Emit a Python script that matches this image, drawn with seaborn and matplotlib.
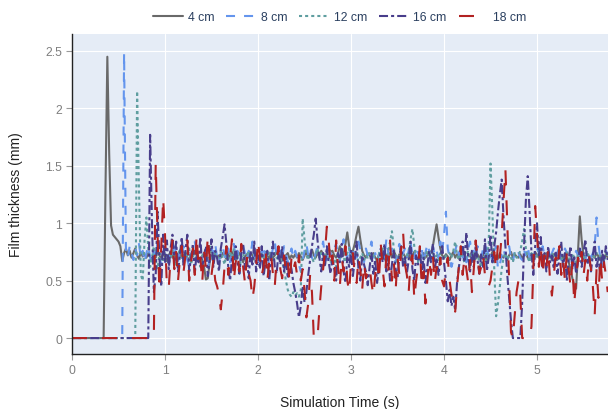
import numpy as np
import pandas as pd
import seaborn as sns
import matplotlib
matplotlib.use("Agg")
import matplotlib.pyplot as plt
from matplotlib.ticker import FuncFormatter

# ---- data (sampled every 0.02 s, 0 .. 5.76 s) ----
time_s = np.round(np.arange(289) * 0.02, 2)

film_4cm = [
    0, 0, 0, 0, 0, 0, 0, 0, 0, 0, 0, 0, 0, 0, 0, 0, 0, 0, 1.3, 2.45,
    1.6, 0.98, 0.9, 0.88, 0.86, 0.84, 0.8, 0.67, 0.74, 0.78, 0.72, 0.76, 0.7, 0.74, 0.78, 0.72, 0.69, 0.75, 0.71, 0.73,
    0.7, 0.74, 0.71, 0.68, 0.73, 0.7, 0.76, 0.72, 0.69, 0.74, 0.71, 0.67, 0.72, 0.75, 0.7, 0.73, 0.68, 0.71, 0.74, 0.7,
    0.72, 0.75, 0.7, 0.68, 0.73, 0.71, 0.76, 0.72, 0.69, 0.7, 0.68, 0.62, 0.51, 0.52, 0.66, 0.72, 0.7, 0.74, 0.7, 0.72,
    0.7, 0.74, 0.72, 0.69, 0.73, 0.7, 0.75, 0.71, 0.68, 0.72, 0.74, 0.7, 0.66, 0.71, 0.73, 0.7, 0.74, 0.72, 0.69, 0.73,
    0.71, 0.68, 0.73, 0.7, 0.75, 0.72, 0.69, 0.74, 0.7, 0.72, 0.76, 0.71, 0.68, 0.73, 0.7, 0.72, 0.74, 0.69, 0.72, 0.7,
    0.73, 0.7, 0.74, 0.71, 0.68, 0.72, 0.75, 0.7, 0.73, 0.77, 0.72, 0.7, 0.74, 0.71, 0.76, 0.73, 0.7, 0.74, 0.78, 0.75,
    0.76, 0.72, 0.7, 0.74, 0.8, 0.76, 0.72, 0.82, 0.92, 0.8, 0.72, 0.76, 0.82, 0.9, 0.97, 0.86, 0.76, 0.72, 0.7, 0.74,
    0.72, 0.69, 0.74, 0.7, 0.68, 0.73, 0.71, 0.75, 0.7, 0.67, 0.72, 0.74, 0.7, 0.76, 0.72, 0.69, 0.73, 0.7, 0.74, 0.71,
    0.7, 0.73, 0.69, 0.72, 0.75, 0.7, 0.68, 0.73, 0.71, 0.74, 0.7, 0.72, 0.76, 0.74, 0.8, 0.9, 0.99, 0.88, 0.78, 0.72,
    0.7, 0.73, 0.71, 0.68, 0.72, 0.75, 0.7, 0.73, 0.69, 0.72, 0.74, 0.7, 0.68, 0.73, 0.71, 0.75, 0.72, 0.69, 0.73, 0.7,
    0.72, 0.74, 0.7, 0.68, 0.73, 0.71, 0.75, 0.7, 0.72, 0.69, 0.74, 0.71, 0.7, 0.73, 0.68, 0.72, 0.75, 0.7, 0.73, 0.71,
    0.7, 0.73, 0.69, 0.72, 0.74, 0.7, 0.68, 0.73, 0.71, 0.75, 0.72, 0.7, 0.73, 0.69, 0.72, 0.74, 0.7, 0.72, 0.68, 0.73,
    0.71, 0.74, 0.7, 0.72, 0.69, 0.73, 0.7, 0.66, 0.6, 0.52, 0.46, 0.43, 0.75, 1.06, 0.85, 0.72, 0.7, 0.73, 0.71, 0.7,
    0.72, 0.7, 0.74, 0.71, 0.68, 0.72, 0.7, 0.73, 0.7,
]
film_8cm = [
    0, 0, 0, 0, 0, 0, 0, 0, 0, 0, 0, 0, 0, 0, 0, 0, 0, 0, 0, 0,
    0, 0, 0, 0, 0, 0, 0, 0, 2.48, 0.75, 0.7, 0.8, 0.74, 0.68, 0.78, 0.72, 0.82, 0.7, 0.76, 0.66,
    0.74, 0.8, 0.7, 0.66, 0.76, 0.72, 0.82, 0.7, 0.64, 0.75, 0.8, 0.72, 0.68, 0.78, 0.74, 0.84, 0.7, 0.66, 0.76, 0.72,
    0.8, 0.74, 0.68, 0.62, 0.72, 0.78, 0.84, 0.74, 0.7, 0.66, 0.76, 0.72, 0.64, 0.6, 0.7, 0.78, 0.74, 0.82, 0.7, 0.66,
    0.74, 0.8, 0.72, 0.68, 0.78, 0.66, 0.74, 0.82, 0.7, 0.76, 0.64, 0.72, 0.8, 0.74, 0.68, 0.76, 0.72, 0.84, 0.7, 0.74,
    0.66, 0.78, 0.72, 0.8, 0.7, 0.74, 0.62, 0.7, 0.78, 0.84, 0.72, 0.68, 0.76, 0.7, 0.8, 0.74, 0.66, 0.72, 0.78, 0.7,
    0.76, 0.7, 0.64, 0.58, 0.68, 0.76, 0.82, 0.72, 0.78, 0.7, 0.66, 0.74, 0.8, 0.7, 0.76, 0.84, 0.72, 0.68, 0.78, 0.74,
    0.7, 0.78, 0.82, 0.72, 0.68, 0.76, 0.86, 0.74, 0.7, 0.8, 0.66, 0.74, 0.78, 0.7, 0.84, 0.76, 0.7, 0.66, 0.78, 0.72,
    0.76, 0.84, 0.7, 0.74, 0.66, 0.72, 0.8, 0.76, 0.7, 0.86, 0.74, 0.68, 0.78, 0.72, 0.66, 0.76, 0.82, 0.7, 0.74, 0.78,
    0.7, 0.76, 0.84, 0.72, 0.68, 0.8, 0.74, 0.7, 0.78, 0.66, 0.74, 0.82, 0.76, 0.7, 0.8, 0.72, 0.76, 0.7, 0.84, 0.74,
    0.9, 1.1, 0.78, 0.7, 0.62, 0.68, 0.76, 0.82, 0.72, 0.8, 0.7, 0.74, 0.66, 0.78, 0.84, 0.72, 0.76, 0.7, 0.8, 0.74,
    0.7, 0.78, 0.72, 0.82, 0.68, 0.74, 0.66, 0.76, 0.8, 0.6, 0.64, 0.72, 0.78, 0.7, 0.74, 0.8, 0.7, 0.66, 0.76, 0.72,
    0.74, 0.7, 0.68, 0.76, 0.72, 0.8, 0.7, 0.74, 0.66, 0.72, 0.78, 0.74, 0.7, 0.8, 0.72, 0.68, 0.76, 0.7, 0.74, 0.78,
    0.7, 0.74, 0.8, 0.68, 0.72, 0.78, 0.74, 0.7, 0.66, 0.62, 0.7, 0.76, 0.72, 0.8, 0.7, 0.74, 0.68, 0.76, 0.72, 0.7,
    0.74, 0.8, 1.05, 0.82, 0.7, 0.62, 0.68, 0.76, 0.72,
]
film_12cm = [
    0, 0, 0, 0, 0, 0, 0, 0, 0, 0, 0, 0, 0, 0, 0, 0, 0, 0, 0, 0,
    0, 0, 0, 0, 0, 0, 0, 0, 0, 0, 0, 0, 0, 0, 0, 2.15, 1.3, 0.55, 0.5, 0.85,
    1.05, 0.78, 0.62, 0.7, 0.8, 0.68, 0.6, 0.74, 0.7, 0.66, 0.78, 0.72, 0.64, 0.7, 0.76, 0.68, 0.62, 0.72, 0.78, 0.7,
    0.66, 0.74, 0.7, 0.78, 0.64, 0.72, 0.68, 0.76, 0.7, 0.62, 0.72, 0.74, 0.68, 0.7, 0.8, 0.72, 0.66, 0.74, 0.7, 0.68,
    0.76, 0.7, 0.64, 0.72, 0.68, 0.74, 0.7, 0.78, 0.66, 0.72, 0.6, 0.7, 0.74, 0.68, 0.72, 0.76, 0.7, 0.66, 0.74, 0.7,
    0.72, 0.68, 0.74, 0.7, 0.64, 0.72, 0.76, 0.7, 0.66, 0.74, 0.7, 0.68, 0.72, 0.66, 0.6, 0.5, 0.42, 0.38, 0.36, 0.4,
    0.37, 0.39, 0.36, 0.42, 1.04, 0.86, 0.72, 0.68, 0.74, 0.7, 0.66, 0.72, 0.78, 0.7, 0.74, 0.68, 0.72, 0.76, 0.7, 0.66,
    0.72, 0.7, 0.62, 0.74, 0.68, 0.72, 0.7, 0.66, 0.74, 0.78, 0.7, 0.68, 0.72, 0.76, 0.64, 0.7, 0.74, 0.68, 0.72, 0.7,
    0.74, 0.68, 0.72, 0.7, 0.66, 0.74, 0.7, 0.78, 0.72, 0.68, 0.76, 0.84, 0.93, 0.78, 0.7, 0.66, 0.72, 0.74, 0.68, 0.7,
    0.72, 0.76, 0.86, 0.95, 0.8, 0.7, 0.66, 0.74, 0.7, 0.68, 0.72, 0.76, 0.7, 0.66, 0.74, 0.7, 0.72, 0.68, 0.74, 0.7,
    0.68, 0.72, 0.66, 0.74, 0.7, 0.76, 0.84, 0.72, 0.68, 0.74, 0.7, 0.66, 0.72, 0.76, 0.7, 0.68, 0.74, 0.7, 0.72, 0.66,
    0.62, 0.7, 0.66, 0.74, 0.8, 1.52, 1.1, 0.6, 0.19, 0.3, 0.45, 0.6, 0.7, 0.74, 0.68, 0.72, 0.7, 0.66, 0.74, 0.7,
    0.72, 0.76, 0.84, 0.95, 0.78, 0.7, 0.66, 0.74, 0.7, 0.68, 0.72, 0.76, 0.7, 0.66, 0.74, 0.7, 0.72, 0.68, 0.74, 0.7,
    0.72, 0.68, 0.74, 0.7, 0.66, 0.72, 0.76, 0.7, 0.68, 0.74, 0.7, 0.66, 0.72, 0.7, 0.74, 0.68, 0.72, 0.76, 0.7, 0.68,
    0.72, 0.7, 0.74, 0.68, 0.72, 0.7, 0.66, 0.74, 0.7,
]
film_16cm = [
    0, 0, 0, 0, 0, 0, 0, 0, 0, 0, 0, 0, 0, 0, 0, 0, 0, 0, 0, 0,
    0, 0, 0, 0, 0, 0, 0, 0, 0, 0, 0, 0, 0, 0, 0, 0, 0, 0, 0, 0,
    0, 0, 1.77, 1.0, 0.4, 0.55, 1.1, 0.7, 0.45, 0.9, 0.65, 0.85, 0.6, 0.78, 0.9, 0.66, 0.84, 0.58, 0.72, 0.88,
    0.62, 0.76, 0.9, 0.58, 0.7, 0.82, 0.56, 0.74, 0.66, 0.88, 0.6, 0.72, 0.8, 0.54, 0.68, 0.86, 0.62, 0.76, 0.7, 0.58,
    0.78, 0.88, 0.99, 0.82, 0.62, 0.5, 0.7, 0.6, 0.8, 0.66, 0.56, 0.74, 0.82, 0.6, 0.7, 0.52, 0.76, 0.64, 0.84, 0.58,
    0.72, 0.6, 0.8, 0.54, 0.66, 0.76, 0.5, 0.7, 0.84, 0.62, 0.56, 0.74, 0.64, 0.8, 0.58, 0.7, 0.52, 0.66, 0.6, 0.48,
    0.4, 0.3, 0.18, 0.28, 0.45, 0.31, 0.4, 0.55, 0.68, 0.8, 0.9, 1.04, 0.85, 0.7, 0.58, 0.74, 0.62, 0.8, 0.66, 0.56,
    0.7, 0.6, 0.5, 0.74, 0.66, 0.82, 0.58, 0.48, 0.7, 0.62, 0.76, 0.54, 0.68, 0.84, 0.6, 0.5, 0.72, 0.64, 0.58, 0.46,
    0.62, 0.74, 0.56, 0.68, 0.48, 0.6, 0.78, 0.66, 0.82, 0.58, 0.7, 0.5, 0.64, 0.76, 0.6, 0.52, 0.72, 0.8, 0.62, 0.7,
    0.56, 0.68, 0.84, 0.6, 0.5, 0.72, 0.64, 0.78, 0.58, 0.7, 0.48, 0.62, 0.76, 0.66, 0.82, 0.6, 0.7, 0.55, 0.68, 0.8,
    0.66, 0.5, 0.32, 0.42, 0.28, 0.36, 0.24, 0.48, 0.62, 0.72, 0.84, 0.66, 0.92, 0.7, 0.58, 0.76, 0.62, 0.8, 0.68, 0.56,
    0.74, 0.62, 0.86, 0.58, 0.7, 0.9, 0.66, 0.8, 0.92, 1.1, 1.25, 1.38, 1.05, 0.8, 0.55, 0.35, 0.15, 0.0, 0.0, 0.0,
    0.0, 0.0, 0.3, 0.8, 1.2, 1.41, 1.1, 0.75, 0.55, 0.8, 1.0, 0.7, 0.88, 0.62, 0.74, 0.58, 0.8, 0.66, 0.72, 0.6,
    0.76, 0.56, 0.7, 0.84, 0.62, 0.74, 0.5, 0.68, 0.8, 0.6, 0.72, 0.56, 0.66, 0.78, 0.62, 0.74, 0.86, 0.64, 0.7, 0.58,
    0.72, 0.84, 0.62, 0.7, 0.56, 0.76, 0.66, 0.8, 0.68,
]
film_18cm = [
    0, 0, 0, 0, 0, 0, 0, 0, 0, 0, 0, 0, 0, 0, 0, 0, 0, 0, 0, 0,
    0, 0, 0, 0, 0, 0, 0, 0, 0, 0, 0, 0, 0, 0, 0, 0, 0, 0, 0, 0,
    0, 0, 0, 0, 0, 1.52, 0.9, 0.42, 0.8, 1.22, 0.9, 0.45, 0.43, 0.7, 0.85, 0.6, 0.75, 0.5, 0.68, 0.8,
    0.58, 0.72, 0.85, 0.5, 0.66, 0.78, 0.55, 0.9, 0.62, 0.7, 0.48, 0.76, 0.6, 0.89, 0.7, 0.55, 0.68, 0.5, 0.45, 0.38,
    0.25, 0.4, 0.62, 0.8, 0.55, 0.7, 0.86, 0.5, 0.66, 0.74, 0.58, 0.82, 0.62, 0.48, 0.7, 0.56, 0.5, 0.34, 0.45, 0.64,
    0.85, 0.7, 0.55, 0.62, 0.78, 0.5, 0.66, 0.74, 0.56, 0.45, 0.68, 0.8, 0.6, 0.52, 0.72, 0.58, 0.66, 0.48, 0.7, 0.6,
    0.66, 0.55, 0.72, 0.5, 0.6, 0.42, 0.18, 0.3, 0.55, 0.4, 0.0, 0.0, 0.0, 0.25, 0.45, 0.6, 0.75, 0.97, 0.85, 0.62,
    0.72, 0.5, 0.85, 0.62, 0.45, 0.7, 0.58, 0.8, 0.5, 0.4, 0.66, 0.74, 0.55, 0.48, 0.7, 0.6, 0.42, 0.65, 0.52, 0.58,
    0.62, 0.48, 0.37, 0.55, 0.7, 0.5, 0.82, 0.6, 0.45, 0.72, 0.58, 0.85, 0.5, 0.66, 0.42, 0.7, 0.55, 0.78, 0.92, 0.64,
    0.55, 0.4, 0.66, 0.72, 0.34, 0.5, 0.62, 0.8, 0.45, 0.58, 0.3, 0.5, 0.68, 0.55, 0.72, 0.48, 0.62, 0.55, 0.7, 0.5,
    0.45, 0.6, 0.7, 0.5, 0.38, 0.3, 0.23, 0.45, 0.62, 0.8, 0.55, 0.7, 0.6, 0.48, 0.68, 0.4, 0.6, 0.85, 0.7, 0.56,
    0.62, 0.72, 0.55, 0.48, 0.45, 0.5, 0.62, 0.75, 0.6, 0.82, 0.7, 0.9, 1.2, 1.47, 1.0, 0.5, 0.05, 0.0, 0.2, 0.4,
    0.5, 0.37, 0.0, 0.0, 0.0, 0.0, 0.0, 0.1, 0.6, 1.15, 0.9, 0.62, 0.8, 0.55, 0.72, 0.6, 0.78, 0.5, 0.37, 0.55,
    0.7, 0.62, 0.8, 0.55, 0.68, 0.5, 0.74, 0.6, 0.45, 0.66, 0.3, 0.5, 0.7, 0.62, 0.75, 0.55, 0.68, 0.5, 0.72, 0.6,
    0.45, 0.2, 0.6, 0.35, 0.7, 0.5, 0.66, 0.55, 0.4,
]

series_names = ["4 cm", "8 cm", "12 cm", "16 cm", "18 cm"]
series_values = [film_4cm, film_8cm, film_12cm, film_16cm, film_18cm]
x_ticks = [0, 1, 2, 3, 4, 5]
y_ticks = [0, 0.5, 1, 1.5, 2, 2.5]

for v in series_values:
    assert len(v) == len(time_s), len(v)

# ---- styles ----
colors = ["#696969", "#6495ED", "#5F9EA0", "#483D8B", "#B22222"]
dash_patterns = [None, (6.5, 6.5), (2.2, 2.2), (6.5, 2.2, 2.2, 2.2), (10.8, 10.8)]

sns.set_theme(style="darkgrid", rc={
    "axes.facecolor": "#E5ECF6",
    "grid.color": "white",
    "grid.linewidth": 0.8,
    "figure.facecolor": "white",
})
plt.rcParams["font.family"] = ["Liberation Sans", "DejaVu Sans"]
plt.rcParams["lines.scale_dashes"] = False

df = pd.DataFrame({
    "time": np.tile(time_s, len(series_names)),
    "thickness": np.concatenate([np.asarray(v, dtype=float) for v in series_values]),
    "series": np.repeat(series_names, len(time_s)),
})

fig = plt.figure(figsize=(6.08, 4.10), dpi=100)
ax = fig.add_axes([72 / 608, 1 - 355 / 410, (608 - 72) / 608, 320 / 410])

for name, col, dash in zip(series_names, colors, dash_patterns):
    sub = df[df["series"] == name]
    sns.lineplot(data=sub, x="time", y="thickness", ax=ax, color=col,
                 linewidth=1.5, label=name, estimator=None, sort=False)
    line = ax.lines[-1]
    if dash is not None:
        line.set_linestyle((0, dash))

ax.set_xlim(0, 5.763)
ax.set_ylim(-0.139, 2.648)
ax.set_xticks(x_ticks)
ax.set_yticks(y_ticks)
fmt = FuncFormatter(lambda v, p: f"{v:g}")
ax.xaxis.set_major_formatter(fmt)
ax.yaxis.set_major_formatter(fmt)
ax.set_axisbelow(True)

for s in ["top", "right"]:
    ax.spines[s].set_visible(False)
for s in ["left", "bottom"]:
    ax.spines[s].set_visible(True)
    ax.spines[s].set_color("#222222")
    ax.spines[s].set_linewidth(1.0)

ax.tick_params(axis="both", which="major", bottom=True, left=True, direction="out",
               length=4, width=0.8, color="#999999", labelcolor="#7f7f7f",
               labelsize=8.8, pad=3)

ax.set_xlabel("Simulation Time (s)", fontsize=10, color="#222222", labelpad=14)
ax.set_ylabel("Film thickness (mm)", fontsize=10, color="#222222", labelpad=16)

leg = ax.legend(ncol=5, loc="center", bbox_to_anchor=(0.5, 1.053), frameon=False,
                fontsize=8.8, handlelength=2.4, handletextpad=0.4, columnspacing=1.0,
                labelcolor="#2a3f5f", borderaxespad=0)

fig.savefig("out.png", dpi=100)
